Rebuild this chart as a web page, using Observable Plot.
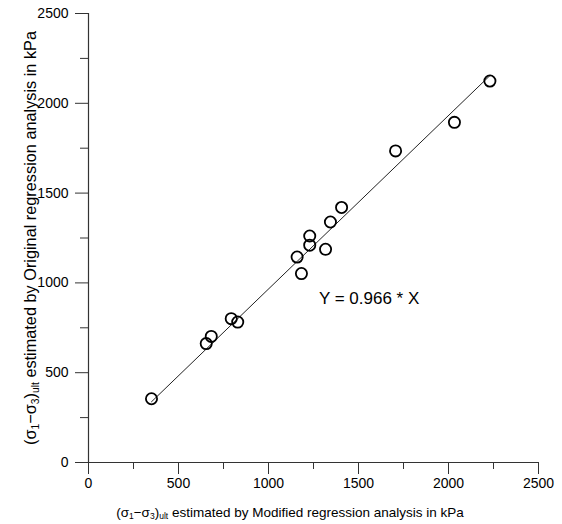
<!DOCTYPE html>
<html><head><meta charset="utf-8">
<script src="https://cdn.jsdelivr.net/npm/d3@7"></script>
<script src="https://cdn.jsdelivr.net/npm/@observablehq/plot@0.6"></script>
<style>body{margin:0;background:#fff}</style>
</head><body><div id="chart"></div>
<script>
// Data
const modified = [350, 654, 682, 793, 829, 1159, 1183, 1229, 1229, 1317, 1344, 1406, 1706, 2033, 2230];
const original = [355, 662, 702, 801, 782, 1144, 1052, 1210, 1261, 1187, 1339, 1420, 1735, 1894, 2124];
const slope = 0.966;
const equationLabel = ["Y = 0.966 * X"];
const equationAt = [1280, 915];
const majorTicks = [0, 500, 1000, 1500, 2000, 2500];
const minorTicks = [250, 750, 1250, 1750, 2250];

const points = modified.map((x, i) => ({x, y: original[i]}));
const fitX = d3.extent(modified);
const fit = fitX.map(x => ({x, y: slope * x}));
const axisColor = "#333";

const svg = Plot.plot({
  width: 562,
  height: 524,
  marginLeft: 88,
  marginRight: 24,
  marginTop: 13,
  marginBottom: 62,
  style: {fontFamily: "'Liberation Sans', Arial, sans-serif", fontSize: "14px", background: "#fff", color: "#000"},
  x: {domain: [0, 2500]},
  y: {domain: [0, 2500]},
  marks: [
    Plot.axisX({ticks: majorTicks, tickSize: 12, tickPadding: 4, stroke: axisColor, label: null, tickFormat: d => String(d), fontSize: 14}),
    Plot.axisX({ticks: minorTicks, tickSize: 7, text: null, stroke: axisColor, label: null}),
    Plot.axisY({ticks: majorTicks, tickSize: 13, tickPadding: 7, stroke: axisColor, label: null, tickFormat: d => String(d), fontSize: 14}),
    Plot.axisY({ticks: minorTicks, tickSize: 8, text: null, stroke: axisColor, label: null}),
    Plot.ruleY([0], {stroke: axisColor, strokeWidth: 1.2}),
    Plot.ruleX([0], {stroke: axisColor, strokeWidth: 1.2}),
    Plot.line(fit, {x: "x", y: "y", stroke: "#222", strokeWidth: 1}),
    Plot.dot(points, {x: "x", y: "y", r: 5.6, stroke: "#000", strokeWidth: 1.8, fill: "none"}),
    Plot.text(equationLabel, {x: () => equationAt[0], y: () => equationAt[1], text: d => d, textAnchor: "start", fontSize: 17, fill: "#000"})
  ]
});
document.getElementById("chart").appendChild(svg);

// Axis titles with subscripts
const s = d3.select(svg);
function addLabel(g, rest, sub) {
  g.append("tspan").text("(σ");
  g.append("tspan").attr("font-size", sub).attr("baseline-shift", "-25%").text("1");
  g.append("tspan").text("−σ");
  g.append("tspan").attr("font-size", sub).attr("baseline-shift", "-25%").text("3");
  g.append("tspan").text(")");
  g.append("tspan").attr("font-size", sub).attr("baseline-shift", "-25%").text("ult");
  g.append("tspan").text(" " + rest);
}
const xl = s.append("text")
  .attr("x", 290).attr("y", 517)
  .attr("text-anchor", "middle")
  .attr("font-size", 13.5).attr("fill", "#000");
addLabel(xl, "estimated by Modified regression analysis in kPa", 8.5);
const yl = s.append("text")
  .attr("transform", "translate(36,238) rotate(-90)")
  .attr("text-anchor", "middle")
  .attr("font-size", 16.3).attr("fill", "#000");
addLabel(yl, "estimated by Original regression analysis in kPa", 10.3);
</script>
</body></html>
